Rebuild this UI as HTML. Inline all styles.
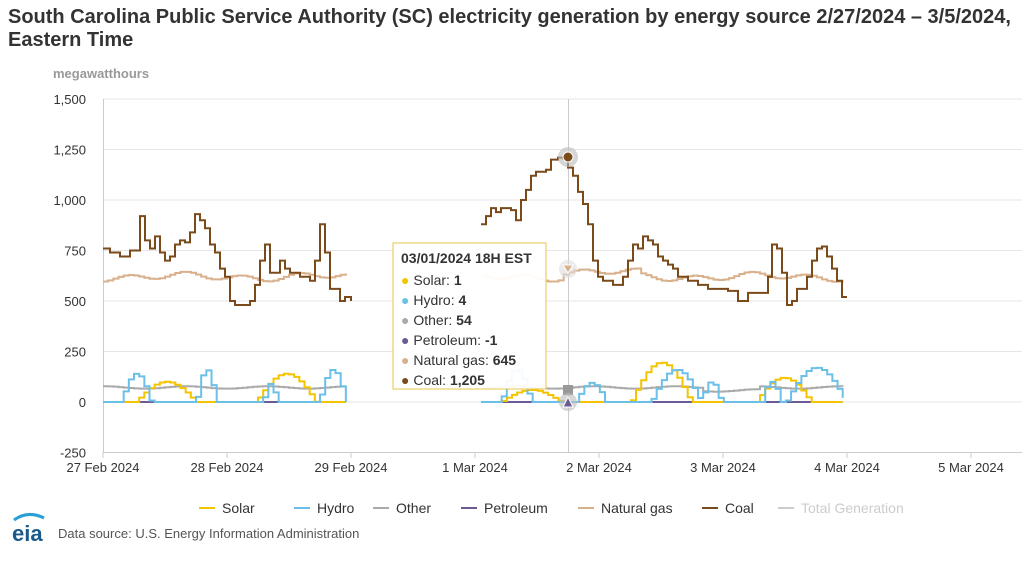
<!DOCTYPE html>
<html><head><meta charset="utf-8">
<style>
body{margin:0;background:#fff;font-family:"Liberation Sans",Arial,sans-serif;}
#wrap{position:relative;width:1024px;height:566px;overflow:hidden}
.t{position:absolute;left:8px;font-weight:bold;font-size:20px;color:#333;white-space:nowrap}
</style></head><body><div id="wrap">
<div class="t" style="top:6px">South Carolina Public Service Authority (SC) electricity generation by energy source 2/27/2024 – 3/5/2024,</div>
<div class="t" style="top:29px">Eastern Time</div>
<svg id="s" width="1024" height="566" style="position:absolute;left:0;top:0" font-family="Liberation Sans, Arial, sans-serif">
<text x="53" y="78" font-size="13" font-weight="bold" fill="#999">megawatthours</text>
<g id="grid" stroke="#e6e6e6" stroke-width="1"></g>
<g id="ylab" font-size="13" fill="#333" text-anchor="end"></g>
<line x1="103.5" y1="99" x2="103.5" y2="452" stroke="#ccc"/>
<line x1="103" y1="452.5" x2="1022" y2="452.5" stroke="#ccc"/>
<g id="xlab" font-size="13" fill="#333" text-anchor="middle"></g>
<line x1="568.5" y1="99" x2="568.5" y2="452" stroke="#ccc" stroke-width="1"/>
<g id="series" fill="none" stroke-width="2"></g>
<circle cx="568" cy="157" r="10" fill="#bbb" opacity="0.6"/><circle cx="568" cy="157" r="5" fill="#7b4a1a" stroke="#fff"/>
<circle cx="568" cy="269" r="9" fill="#ddd" opacity="0.6"/><path d="M563,265 L573,265 L568,273Z" fill="#d9b08c" stroke="#fff"/>
<rect x="563" y="385" width="10" height="10" fill="#999"/>
<circle cx="568" cy="402" r="9" fill="#bbb" opacity="0.6"/><path d="M563,407 L573,407 L568,397Z" fill="#6b5b95" stroke="#fff"/>
<g transform="translate(393,243)">
<rect x="0" y="0" width="153" height="146" fill="#fff" fill-opacity="0.93" stroke="#e8c64a"/>
<g font-size="14" fill="#333">
<text x="8" y="20" font-weight="bold">03/01/2024 18H EST</text>
<text x="8" y="42"><tspan fill="#f5c400">●</tspan> Solar: <tspan font-weight="bold">1</tspan></text>
<text x="8" y="62"><tspan fill="#6cc0e8">●</tspan> Hydro: <tspan font-weight="bold">4</tspan></text>
<text x="8" y="82"><tspan fill="#aaa">●</tspan> Other: <tspan font-weight="bold">54</tspan></text>
<text x="8" y="102"><tspan fill="#6b5b95">●</tspan> Petroleum: <tspan font-weight="bold">-1</tspan></text>
<text x="8" y="122"><tspan fill="#d9b08c">●</tspan> Natural gas: <tspan font-weight="bold">645</tspan></text>
<text x="8" y="142"><tspan fill="#7b4a1a">●</tspan> Coal: <tspan font-weight="bold">1,205</tspan></text>
</g></g>
<g font-size="14" fill="#333">
<line x1="199" y1="508" x2="215" y2="508" stroke="#f5c400" stroke-width="2"/><text x="222" y="513">Solar</text>
<line x1="294" y1="508" x2="310" y2="508" stroke="#6cc0e8" stroke-width="2"/><text x="317" y="513">Hydro</text>
<line x1="373" y1="508" x2="389" y2="508" stroke="#aaa" stroke-width="2"/><text x="396" y="513">Other</text>
<line x1="461" y1="508" x2="477" y2="508" stroke="#6b5b95" stroke-width="2"/><text x="484" y="513">Petroleum</text>
<line x1="578" y1="508" x2="594" y2="508" stroke="#d9b08c" stroke-width="2"/><text x="601" y="513">Natural gas</text>
<line x1="702" y1="508" x2="718" y2="508" stroke="#7b4a1a" stroke-width="2"/><text x="725" y="513">Coal</text>
<line x1="778" y1="508" x2="794" y2="508" stroke="#ccc" stroke-width="2"/><text x="801" y="513" fill="#ccc">Total Generation</text>
</g>
<text x="12" y="541" font-size="22" font-weight="bold" fill="#1a5a8a">eia</text>
<path d="M14,520 Q28,510 44,518" stroke="#2a9fd6" stroke-width="3" fill="none"/>
<text x="58" y="538" font-size="13" fill="#555">Data source: U.S. Energy Information Administration</text>
</svg>
<script>
var S=document.getElementById('s'),ns='http://www.w3.org/2000/svg';
function el(p,t,a,tx){var e=document.createElementNS(ns,t);for(var k in a)e.setAttribute(k,a[k]);if(tx)e.textContent=tx;document.getElementById(p).appendChild(e);}
function Y(v){return 402-v*0.202;}
[1500,1250,1000,750,500,250,0,-250].forEach(function(v){var y=Y(v);el('grid','line',{x1:103,x2:1022,y1:y,y2:y});el('ylab','text',{x:86,y:y+5},v.toLocaleString('en-US'));});
['27 Feb 2024','28 Feb 2024','29 Feb 2024','1 Mar 2024','2 Mar 2024','3 Mar 2024','4 Mar 2024','5 Mar 2024'].forEach(function(l,i){var x=103+124*i;el('xlab','text',{x:x,y:472},l);el('grid','line',{x1:x,x2:x,y1:452,y2:458,stroke:'#ccc'});});
function step(pts,c){var d='';for(var i=0;i<pts.length;i++){var x=pts[i][0],y=Y(pts[i][1]);if(i==0)d='M'+x+','+y;else d+=' H'+x+' V'+y;}el('series','path',{d:d,stroke:c});}
function gen(x0,x1,f){var a=[];for(var x=x0;x<=x1;x+=5.167)a.push([x,f(x)]);return a;}
var segs=[[103,351],[481,847]];
segs.forEach(function(s){
step(gen(s[0],s[1],function(){return 0}),'#6b5b95');
step(gen(s[0],s[1],function(x){return 72+6*Math.sin(x/13)+(x>700&&x<760?-15:0)}),'#aaa');
step(gen(s[0],s[1],function(x){return 620+15*Math.sin(x/9)+10*Math.sin(x/23)+(x>560&&x<640?20:0)}),'#d9b08c');
});
function bumps(B){return function(x){for(var i=0;i<B.length;i++){var b=B[i];if(x>=b[0]&&x<=b[1])return b[2]*Math.sin(Math.PI*(x-b[0])/(b[1]-b[0]));}return 0;}}
var sol=bumps([[135,195,100],[255,315,140],[500,560,60],[630,690,195],[755,810,120]]);
var hyd=bumps([[120,150,140],[195,215,160],[262,276,90],[318,345,160],[500,530,160],[575,605,95],[650,700,160],[700,720,100],[760,780,100],[785,845,170]]);
segs.forEach(function(s){step(gen(s[0],s[1],sol),'#f5c400');step(gen(s[0],s[1],hyd),'#6cc0e8');});
var c1=[[103,760],[110,740],[120,720],[130,750],[140,920],[145,800],[150,760],[155,820],[160,740],[165,700],[170,720],[175,780],[180,800],[185,790],[190,840],[195,930],[200,900],[205,860],[210,780],[215,740],[220,660],[225,620],[230,500],[235,480],[245,480],[250,500],[255,580],[260,700],[265,780],[270,640],[280,700],[285,660],[290,640],[300,620],[310,600],[315,700],[320,880],[325,740],[330,560],[340,500],[345,520],[351,500]];
var c2=[[481,880],[486,920],[491,960],[496,940],[501,960],[511,950],[516,900],[521,1000],[526,1050],[531,1120],[536,1140],[546,1150],[551,1200],[558,1210],[563,1205],[568,1160],[573,1120],[578,1040],[583,980],[588,880],[593,700],[598,620],[603,600],[613,580],[623,620],[628,700],[633,780],[638,760],[643,820],[648,800],[653,780],[658,720],[663,700],[668,680],[673,660],[678,620],[688,600],[698,580],[708,560],[718,560],[728,550],[738,500],[748,540],[758,540],[768,620],[772,780],[777,760],[782,640],[787,480],[792,500],[797,560],[802,560],[807,620],[812,700],[817,760],[822,770],[827,720],[832,660],[837,600],[842,520],[847,520]];
step(c1,'#7b4a1a');step(c2,'#7b4a1a');
</script>
</div></body></html>
